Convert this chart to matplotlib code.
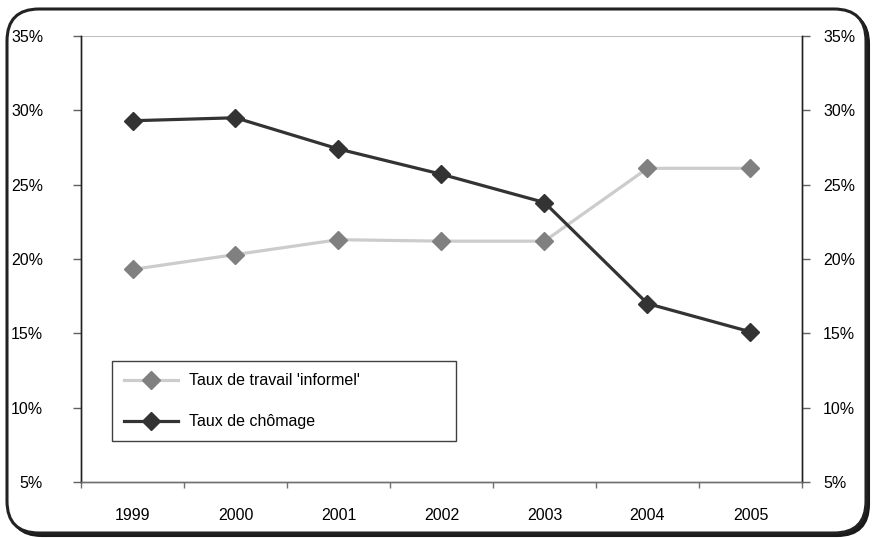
import matplotlib
matplotlib.use("Agg")
import matplotlib.pyplot as plt
from matplotlib.patches import FancyBboxPatch
from matplotlib.transforms import IdentityTransform
from matplotlib.ticker import FixedLocator, PercentFormatter

plt.rcParams['font.family'] = ['Liberation Sans', 'DejaVu Sans']

years = ['1999', '2000', '2001', '2002', '2003', '2004', '2005']
informel = [19.3, 20.3, 21.3, 21.2, 21.2, 26.1, 26.1]
chomage = [29.3, 29.5, 27.4, 25.7, 23.8, 17.0, 15.1]
y_ticks = [5, 10, 15, 20, 25, 30, 35]

fig = plt.figure(figsize=(8.75, 5.38), dpi=100)
ax = fig.add_axes([81 / 875, 56 / 538, 721 / 875, 446 / 538])

x = range(len(years))
ax.plot(x, informel, color='#cccccc', lw=2.3, marker='D', ms=9.5,
        mfc='#808080', mec='#808080', label="Taux de travail 'informel'", zorder=3)
ax.plot(x, chomage, color='#333333', lw=2.3, marker='D', ms=9.5,
        mfc='#333333', mec='#333333', label='Taux de chômage', zorder=4)

ax.set_xlim(-0.5, len(years) - 0.5)
ax.set_ylim(5, 35)

# category labels centred, tick marks on the boundaries
ax.set_xticks(list(x))
ax.set_xticklabels(years)
ax.xaxis.set_minor_locator(FixedLocator([i - 0.5 for i in range(len(years) + 1)]))
ax.tick_params(axis='x', which='major', length=0, pad=18.5, labelsize=11.5)
ax.tick_params(axis='x', which='minor', length=4.3, width=1, color='#707070', direction='out')

ax.set_yticks(y_ticks)
ax.yaxis.set_major_formatter(PercentFormatter(decimals=0))
ax.tick_params(axis='y', length=5.8, width=1, color='#606060', direction='out',
               labelsize=11.5, pad=21.5)

# same scale repeated on the right
ax2 = ax.twinx()
ax2.set_ylim(5, 35)
ax2.set_yticks(y_ticks)
ax2.yaxis.set_major_formatter(PercentFormatter(decimals=0))
ax2.tick_params(axis='y', length=5.8, width=1, color='#606060', direction='out',
                labelsize=11.5, pad=9.4)

for a in (ax, ax2):
    a.patch.set_visible(False)
    a.spines['top'].set_visible(False)
    a.spines['left'].set_color('#222222')
    a.spines['right'].set_color('#222222')
    a.spines['bottom'].set_color('#707070')
    for s in a.spines.values():
        s.set_linewidth(1)
ax.axhline(35, color='#c0c0c0', lw=1.5, zorder=1)

leg = ax2.legend(*ax.get_legend_handles_labels(),
                 loc='upper left', bbox_to_anchor=(0.043, 0.271, 0.477, 0.0),
                 mode='expand', borderaxespad=0, fancybox=False,
                 edgecolor='#404040', framealpha=1, fontsize=11.5,
                 handlelength=3.4, handletextpad=0.7, labelspacing=1.65,
                 borderpad=0.75)
leg.get_frame().set_linewidth(1)

# rounded frame, with a solid shadow showing at the bottom right
shadow = FancyBboxPatch((10, 2), 859, 524, boxstyle='round,pad=0,rounding_size=32',
                        transform=IdentityTransform(), facecolor='#1a1a1a',
                        edgecolor='#1a1a1a', lw=1.5, zorder=-2)
frame = FancyBboxPatch((7, 5), 859, 524, boxstyle='round,pad=0,rounding_size=32',
                       transform=IdentityTransform(), facecolor='white',
                       edgecolor='#222222', lw=2.2, zorder=-1)
fig.patches.extend([shadow, frame])

fig.savefig('out.png', dpi=100)
